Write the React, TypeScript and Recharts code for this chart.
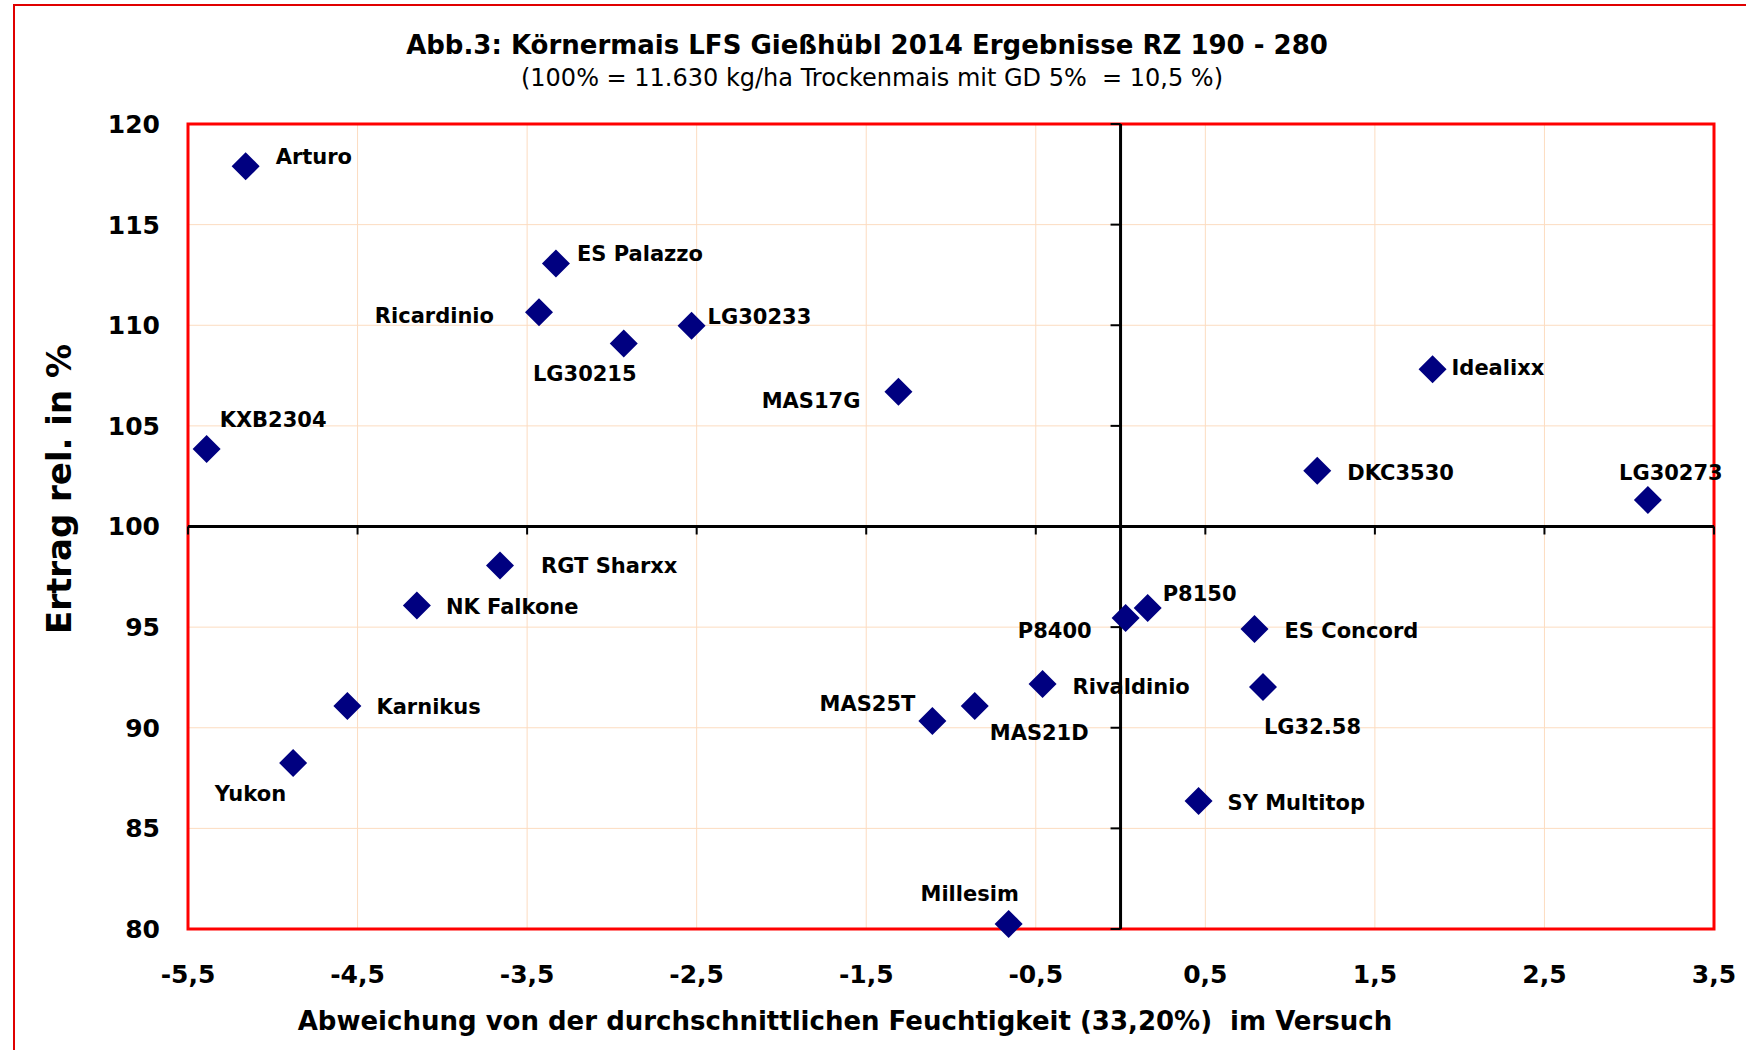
import {
  ScatterChart,
  Scatter,
  XAxis,
  YAxis,
  CartesianGrid,
  ReferenceLine,
  ReferenceArea,
} from "recharts";

// Sorten, Abweichung Feuchtigkeit (%-Punkte), Ertrag relativ (%)
const VARIETIES = [
  "Arturo",
  "ES Palazzo",
  "Ricardinio",
  "LG30215",
  "LG30233",
  "MAS17G",
  "KXB2304",
  "Idealixx",
  "DKC3530",
  "LG30273",
  "RGT Sharxx",
  "NK Falkone",
  "Karnikus",
  "Yukon",
  "P8400",
  "P8150",
  "ES Concord",
  "LG32.58",
  "Rivaldinio",
  "MAS21D",
  "MAS25T",
  "SY Multitop",
  "Millesim",
];
const MOISTURE_DIFF = [
  -5.16, -3.33, -3.43, -2.93, -2.53, -1.31, -5.39, 1.84, 1.16, 3.11, -3.66, -4.15,
  -4.56, -4.88, 0.03, 0.16, 0.79, 0.84, -0.46, -0.86, -1.11, 0.46, -0.66,
];
const YIELD_REL = [
  117.9, 113.07, 110.64, 109.09, 109.97, 106.7, 103.85, 107.81, 102.77, 101.32, 98.06,
  96.07, 91.08, 88.25, 95.45, 95.95, 94.91, 92.02, 92.17, 91.08, 90.34, 86.36, 80.25,
];
const X_TICKS = [-5.5, -4.5, -3.5, -2.5, -1.5, -0.5, 0.5, 1.5, 2.5, 3.5];
const Y_TICKS = [80, 85, 90, 95, 100, 105, 110, 115, 120];

const TITLE = "Abb.3: Körnermais LFS Gießhübl 2014 Ergebnisse RZ 190 - 280";
const SUBTITLE = "(100% = 11.630 kg/ha Trockenmais mit GD 5%  = 10,5 %)";
const X_TITLE = "Abweichung von der durchschnittlichen Feuchtigkeit (33,20%)  im Versuch";
const Y_TITLE = "Ertrag rel. in %";

// label placement next to each marker: anchor, dx, dy (px)
const LABEL_LAYOUT: Record<string, [string, number, number]> = {
  Arturo: ["start", 30, -9],
  "ES Palazzo": ["start", 21, -9],
  Ricardinio: ["end", -45, 4],
  LG30215: ["middle", -39, 30],
  LG30233: ["start", 16, -9],
  MAS17G: ["end", -38, 9],
  KXB2304: ["start", 13, -29],
  Idealixx: ["start", 19, -1],
  DKC3530: ["start", 30, 2],
  LG30273: ["middle", 23, -27],
  "RGT Sharxx": ["start", 41, 0],
  "NK Falkone": ["start", 29, 1],
  Karnikus: ["start", 29, 1],
  Yukon: ["end", -7, 31],
  P8400: ["end", -34, 13],
  P8150: ["start", 15, -14],
  "ES Concord": ["start", 30, 2],
  "LG32.58": ["start", 1, 40],
  Rivaldinio: ["start", 30, 3],
  MAS21D: ["start", 15, 27],
  MAS25T: ["end", -17, -17],
  "SY Multitop": ["start", 29, 2],
  Millesim: ["middle", -39, -30],
};

const FONT = "'DejaVu Sans', Verdana, sans-serif";
const NAVY = "#000080";
const GRID = "#fcdcc0";

const data = VARIETIES.map((name, i) => ({
  name,
  x: MOISTURE_DIFF[i],
  y: YIELD_REL[i],
}));

const fmt = (v: number) => v.toFixed(1).replace(".", ",");

function Diamond(props: any) {
  const { cx, cy, payload } = props;
  if (cx == null || cy == null) return null;
  const r = 14;
  const [anchor, dx, dy] = LABEL_LAYOUT[payload.name] ?? ["start", 25, 0];
  return (
    <g>
      <polygon
        points={`${cx},${cy - r} ${cx + r},${cy} ${cx},${cy + r} ${cx - r},${cy}`}
        fill={NAVY}
      />
      <text
        x={cx + dx}
        y={cy + dy}
        textAnchor={anchor as any}
        dominantBaseline="central"
        fontFamily={FONT}
        fontWeight="bold"
        fontSize={21}
        fill="#000"
      >
        {payload.name}
      </text>
    </g>
  );
}

function XAxisLine(props: any) {
  const { x1, x2, y1 } = props;
  const n = X_TICKS.length - 1;
  return (
    <g>
      <line x1={x1} x2={x2} y1={y1} y2={y1} stroke="#000" strokeWidth={3} />
      {X_TICKS.map((_, k) => {
        const x = x1 + (k * (x2 - x1)) / n;
        return <line key={k} x1={x} x2={x} y1={y1} y2={y1 + 8} stroke="#000" strokeWidth={2} />;
      })}
    </g>
  );
}

function YAxisLine(props: any) {
  const { x1, y1, y2 } = props;
  const n = Y_TICKS.length - 1;
  return (
    <g>
      <line x1={x1} x2={x1} y1={y1} y2={y2} stroke="#000" strokeWidth={3} />
      {Y_TICKS.map((_, k) => {
        const y = y1 + (k * (y2 - y1)) / n;
        return <line key={k} x1={x1 - 10} x2={x1} y1={y} y2={y} stroke="#000" strokeWidth={2} />;
      })}
    </g>
  );
}

export default function App() {
  return (
    <div
      style={{
        position: "absolute",
        left: 0,
        top: 0,
        width: 1746,
        height: 1050,
        background: "#fff",
        overflow: "hidden",
        fontFamily: FONT,
      }}
    >
      <div
        style={{
          position: "absolute",
          left: 13,
          top: 4,
          width: 1760,
          height: 1080,
          borderTop: "2px solid #e00000",
          borderLeft: "2px solid #e00000",
        }}
      />
      <div
        style={{
          position: "absolute",
          left: 867 - 600,
          width: 1200,
          top: 45 - 16,
          lineHeight: "32px",
          textAlign: "center",
          fontWeight: "bold",
          fontSize: 26,
        }}
      >
        {TITLE}
      </div>
      <div
        style={{
          position: "absolute",
          left: 872 - 600,
          width: 1200,
          top: 78 - 15,
          lineHeight: "30px",
          textAlign: "center",
          fontSize: 24,
          whiteSpace: "pre",
        }}
      >
        {SUBTITLE}
      </div>
      <div
        style={{
          position: "absolute",
          left: 845 - 700,
          width: 1400,
          top: 1021 - 16,
          lineHeight: "32px",
          textAlign: "center",
          fontWeight: "bold",
          fontSize: 26,
          whiteSpace: "pre",
        }}
      >
        {X_TITLE}
      </div>
      <div
        style={{
          position: "absolute",
          left: 59 - 200,
          width: 400,
          top: 489 - 20,
          lineHeight: "40px",
          textAlign: "center",
          fontWeight: "bold",
          fontSize: 34,
          transform: "rotate(-90deg)",
        }}
      >
        {Y_TITLE}
      </div>

      <div style={{ position: "absolute", left: 0, top: 0 }}>
        <ScatterChart
          width={1746}
          height={1050}
          margin={{ top: 124, right: 32, bottom: 61, left: 128 }}
        >
          <CartesianGrid stroke={GRID} strokeWidth={1} />
          <XAxis
            type="number"
            dataKey="x"
            domain={[-5.5, 3.5]}
            ticks={X_TICKS}
            tickFormatter={fmt}
            axisLine={false}
            tickLine={false}
            tickSize={0}
            tickMargin={36}
            height={60}
            tick={{ fill: "#000", fontSize: 25, fontWeight: "bold", fontFamily: FONT }}
          />
          <YAxis
            type="number"
            dataKey="y"
            domain={[80, 120]}
            ticks={Y_TICKS}
            axisLine={false}
            tickLine={false}
            tickSize={0}
            tickMargin={28}
            width={60}
            tick={{ fill: "#000", fontSize: 25, fontWeight: "bold", fontFamily: FONT }}
          />
          <ReferenceArea
            x1={-5.5}
            x2={3.5}
            y1={80}
            y2={120}
            fill="none"
            fillOpacity={0}
            stroke="#ff0000"
            strokeWidth={3}
          />
          <ReferenceLine y={100} shape={<XAxisLine />} />
          <ReferenceLine x={0} shape={<YAxisLine />} />
          <Scatter data={data} shape={<Diamond />} isAnimationActive={false} />
        </ScatterChart>
      </div>
    </div>
  );
}
